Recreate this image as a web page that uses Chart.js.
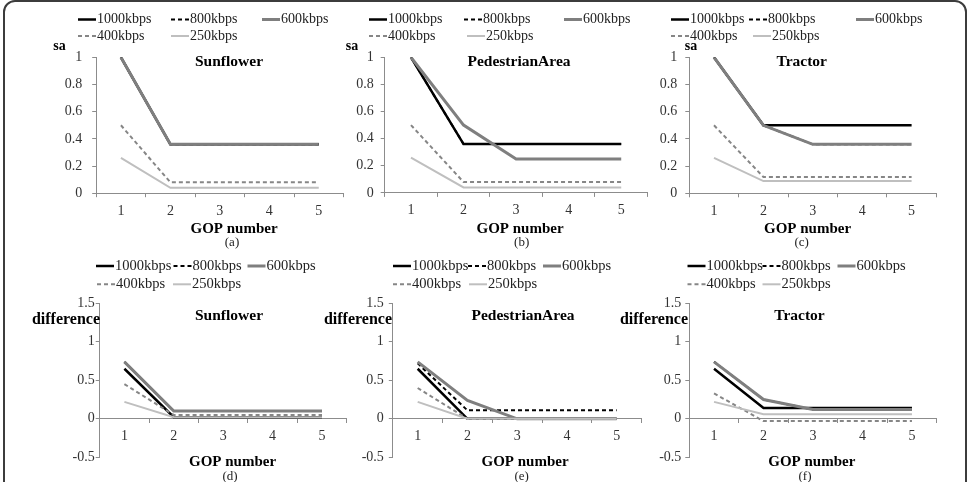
<!DOCTYPE html>
<html>
<head>
<meta charset="utf-8">
<script src="https://cdn.jsdelivr.net/npm/chart.js@4.4.0/dist/chart.umd.min.js"></script>
<style>
html,body{margin:0;padding:0;background:#fff;}
#wrap{position:relative;width:969px;height:482px;overflow:hidden;background:#fff;}
#frame{position:absolute;left:3px;top:0px;width:964px;height:530px;box-sizing:border-box;border:2px solid #3c3c3c;border-radius:12px;}
canvas{position:absolute;left:0;top:0;}
</style>
</head>
<body>
<div id="wrap">
<div id="frame"></div>
<canvas id="c0" width="969" height="482"></canvas>
<canvas id="c1" width="969" height="482"></canvas>
<canvas id="c2" width="969" height="482"></canvas>
<canvas id="c3" width="969" height="482"></canvas>
<canvas id="c4" width="969" height="482"></canvas>
<canvas id="c5" width="969" height="482"></canvas>
</div>
<script>
// ---------- data ----------
const gopNumbers = ['1', '2', '3', '4', '5'];
const bitrates = ['1000kbps', '800kbps', '600kbps', '400kbps', '250kbps'];
const sequences = ['Sunflower', 'PedestrianArea', 'Tractor'];
const panelLetters = ['(a)', '(b)', '(c)', '(d)', '(e)', '(f)'];
const saTicks = [0, 0.2, 0.4, 0.6, 0.8, 1];
const diffTicks = [-0.5, 0, 0.5, 1, 1.5];

// rows follow the order of `bitrates`
const saSunflower = [
  [1, 0.36, 0.36, 0.36, 0.36],
  [1, 0.36, 0.36, 0.36, 0.36],
  [1, 0.36, 0.36, 0.36, 0.36],
  [0.5, 0.08, 0.08, 0.08, 0.08],
  [0.26, 0.04, 0.04, 0.04, 0.04]
];
const saPedestrian = [
  [1, 0.36, 0.36, 0.36, 0.36],
  [1, 0.36, 0.36, 0.36, 0.36],
  [1, 0.5, 0.25, 0.25, 0.25],
  [0.5, 0.08, 0.08, 0.08, 0.08],
  [0.26, 0.04, 0.04, 0.04, 0.04]
];
const saTractor = [
  [1, 0.5, 0.5, 0.5, 0.5],
  [1, 0.5, 0.36, 0.36, 0.36],
  [1, 0.5, 0.36, 0.36, 0.36],
  [0.5, 0.12, 0.12, 0.12, 0.12],
  [0.26, 0.09, 0.09, 0.09, 0.09]
];
const diffSunflower = [
  [0.65, 0.02, 0.02, 0.02, 0.02],
  [0.74, 0.1, 0.1, 0.1, 0.1],
  [0.74, 0.1, 0.1, 0.1, 0.1],
  [0.45, 0.05, 0.05, 0.05, 0.05],
  [0.22, 0.02, 0.02, 0.02, 0.02]
];
const diffPedestrian = [
  [0.65, 0, 0, 0, 0],
  [0.72, 0.11, 0.11, 0.11, 0.11],
  [0.74, 0.24, 0, 0, 0],
  [0.4, 0, 0, 0, 0],
  [0.22, 0, 0, 0, 0]
];
const diffTractor = [
  [0.65, 0.14, 0.14, 0.14, 0.14],
  [0.74, 0.25, 0.12, 0.12, 0.12],
  [0.74, 0.25, 0.12, 0.12, 0.12],
  [0.33, -0.03, -0.03, -0.03, -0.03],
  [0.22, 0.06, 0.06, 0.06, 0.06]
];

// ---------- styles / layout ----------
const W = 969, H = 482;
const serif = "'Liberation Serif', 'Times New Roman', serif";
const axisColor = '#8c8c8c';
const tickColor = '#333333';
const lineStyles = [
  {color: '#000000', width: 2.5, dash: []},
  {color: '#000000', width: 2, dash: [4, 3]},
  {color: '#7f7f7f', width: 3, dash: []},
  {color: '#868686', width: 2, dash: [4, 3]},
  {color: '#bfbfbf', width: 2, dash: []}
];

const panels = [
  {canvas: 'c0', values: saSunflower, ticks: saTicks, zeroAxis: false,
   area: {l: 96.2, r: 343.5, t: 57.3, b: 193.2}, yTickLen: 4, yPad: 10,
   yLabel: {text: 'sa', x: 59.5, y: 46, align: 'center', font: 'bold 14px'},
   title: {x: 229, y: 62}, gop: {x: 234, y: 229}, letter: {x: 232, y: 243},
   legend: {rows: [19.5, 36], xs: [97, 190, 281, 97, 190], font: '14px'}},
  {canvas: 'c1', values: saPedestrian, ticks: saTicks, zeroAxis: false,
   area: {l: 384.7, r: 647.5, t: 57.3, b: 192.9}, yTickLen: 4, yPad: 7,
   yLabel: {text: 'sa', x: 352, y: 46, align: 'center', font: 'bold 14px'},
   title: {x: 519, y: 62}, gop: {x: 520, y: 229}, letter: {x: 521.7, y: 243},
   legend: {rows: [19.5, 36], xs: [388, 483, 583, 388, 486], font: '14px'}},
  {canvas: 'c2', values: saTractor, ticks: saTicks, zeroAxis: false,
   area: {l: 689.3, r: 936.3, t: 57.3, b: 193.3}, yTickLen: 4, yPad: 8,
   yLabel: {text: 'sa', x: 691, y: 46, align: 'center', font: 'bold 14px'},
   title: {x: 801.7, y: 62}, gop: {x: 807.5, y: 229}, letter: {x: 801.7, y: 243},
   legend: {rows: [19.5, 36], xs: [690, 768, 875, 690, 772], font: '14px'}},
  {canvas: 'c3', values: diffSunflower, ticks: diffTicks, zeroAxis: true,
   area: {l: 99.7, r: 346.7, t: 303.3, b: 457.3}, yTickLen: 4, yPad: 1,
   yLabel: {text: 'difference', x: 100, y: 320, align: 'right', font: 'bold 16px'},
   title: {x: 229, y: 316}, gop: {x: 232.5, y: 462}, letter: {x: 230, y: 477},
   legend: {rows: [266, 284.3], xs: [115, 192.5, 266.5, 116, 192], font: '14.5px'}},
  {canvas: 'c4', values: diffPedestrian, ticks: diffTicks, zeroAxis: true,
   area: {l: 392.8, r: 641.5, t: 303.3, b: 457.3}, yTickLen: 4, yPad: 5,
   yLabel: {text: 'difference', x: 392, y: 320, align: 'right', font: 'bold 16px'},
   title: {x: 523, y: 316}, gop: {x: 525, y: 462}, letter: {x: 521.7, y: 477},
   legend: {rows: [266, 284.3], xs: [412, 487, 562, 412, 488], font: '14.5px'}},
  {canvas: 'c5', values: diffTractor, ticks: diffTicks, zeroAxis: true,
   area: {l: 689.3, r: 936.7, t: 303.3, b: 457.3}, yTickLen: 4, yPad: 4,
   yLabel: {text: 'difference', x: 688, y: 320, align: 'right', font: 'bold 16px'},
   title: {x: 799.5, y: 316}, gop: {x: 811.8, y: 462}, letter: {x: 805, y: 477},
   legend: {rows: [266, 284.3], xs: [706.5, 781.5, 856.5, 706.5, 781.5], font: '14.5px'}}
];

function annotPlugin(p, idx) {
  return {
    id: 'annot' + idx,
    afterDraw(chart) {
      const c = chart.ctx;
      c.save();
      c.textBaseline = 'middle';
      const texts = [
        {text: p.yLabel.text, x: p.yLabel.x, y: p.yLabel.y, align: p.yLabel.align, font: p.yLabel.font},
        {text: sequences[idx % 3], x: p.title.x, y: p.title.y, align: 'center', font: 'bold 15.5px'},
        {text: 'GOP number', x: p.gop.x, y: p.gop.y, align: 'center', font: 'bold 15px'},
        {text: panelLetters[idx], x: p.letter.x, y: p.letter.y, align: 'center', font: '13px', color: '#222'}
      ];
      texts.forEach(t => {
        c.font = t.font + ' ' + serif;
        c.fillStyle = t.color || '#000';
        c.textAlign = t.align;
        c.fillText(t.text, t.x, t.y);
      });
      chart.data.datasets.forEach((ds, i) => {
        const x = p.legend.xs[i];
        const y = p.legend.rows[i < 3 ? 0 : 1];
        c.beginPath();
        c.setLineDash(ds.borderDash);
        c.lineWidth = ds.borderWidth;
        c.strokeStyle = ds.borderColor;
        c.moveTo(x - 19, y);
        c.lineTo(x - 1, y);
        c.stroke();
        c.setLineDash([]);
        c.font = p.legend.font + ' ' + serif;
        c.fillStyle = '#222';
        c.textAlign = 'left';
        c.fillText(ds.label, x, y);
      });
      c.restore();
    }
  };
}

const yW = 40, xH = 30;
panels.forEach((p, idx) => {
  const ctx = document.getElementById(p.canvas).getContext('2d');
  new Chart(ctx, {
    type: 'line',
    data: {
      labels: gopNumbers,
      datasets: bitrates.map((name, i) => ({
        label: name,
        data: p.values[i],
        borderColor: lineStyles[i].color,
        backgroundColor: lineStyles[i].color,
        borderWidth: lineStyles[i].width,
        borderDash: lineStyles[i].dash,
        pointRadius: 0,
        pointHoverRadius: 0,
        tension: 0,
        fill: false,
        order: bitrates.length - i
      }))
    },
    options: {
      responsive: false,
      animation: false,
      events: [],
      layout: {
        padding: {
          left: p.area.l - yW,
          right: W - p.area.r,
          top: p.area.t,
          bottom: p.zeroAxis ? H - p.area.b : H - p.area.b - xH
        }
      },
      plugins: {legend: {display: false}, tooltip: {enabled: false}, title: {display: false}},
      scales: {
        x: {
          type: 'category',
          offset: true,
          position: p.zeroAxis ? {y: 0} : 'bottom',
          grid: {display: true, drawOnChartArea: false, drawTicks: true, tickLength: 4, offset: true, color: axisColor, lineWidth: 1},
          border: {display: true, color: axisColor, width: 1},
          ticks: {font: {family: serif, size: 14}, color: tickColor, padding: 5.5, maxRotation: 0, autoSkip: false},
          afterFit: s => { s.height = xH; }
        },
        y: {
          type: 'linear',
          min: p.ticks[0],
          max: p.ticks[p.ticks.length - 1],
          ticks: {
            stepSize: p.ticks[1] - p.ticks[0],
            font: {family: serif, size: 14},
            color: tickColor,
            padding: p.yPad,
            callback: v => String(Math.round(v * 100) / 100)
          },
          grid: {display: true, drawOnChartArea: false, drawTicks: true, tickLength: p.yTickLen, color: axisColor, lineWidth: 1},
          border: {display: true, color: axisColor, width: 1},
          afterFit: s => { s.width = yW; }
        }
      }
    },
    plugins: [annotPlugin(p, idx)]
  });
});
</script>
</body>
</html>
